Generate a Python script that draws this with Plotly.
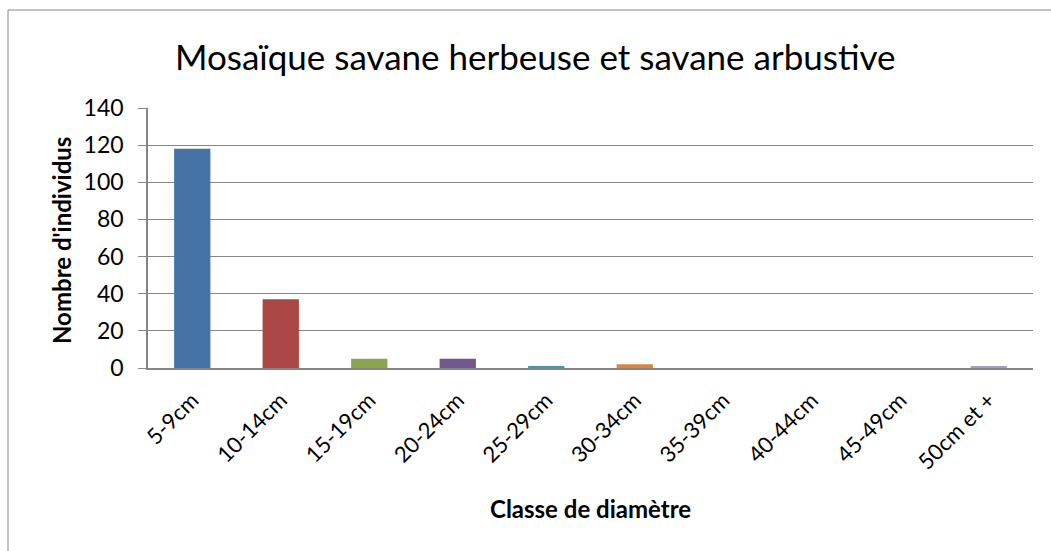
import plotly.graph_objects as go

# Diameter classes and number of individuals per class
classes = ["5-9cm", "10-14cm", "15-19cm", "20-24cm", "25-29cm",
           "30-34cm", "35-39cm", "40-44cm", "45-49cm", "50cm et +"]
individus = [118, 37, 5, 5, 1, 2, 0, 0, 0, 1]
colors = ["#4572A7", "#AA4643", "#89A54E", "#71588F", "#4198AF",
          "#DB843D", "#93A9CF", "#D19392", "#B9CD96", "#A99BBD"]
y_ticks = [0, 20, 40, 60, 80, 100, 120, 140]

W, H = 1051, 551
L, R, T, B = 148, 18, 108, 183
pw, ph = W - L - R, H - T - B

def px(x):
    return (x - L) / pw

def py(y):
    return (H - B - y) / ph

FONT = "Lato"
GRID = "#868686"

fig = go.Figure(go.Bar(
    x=classes, y=individus, marker=dict(color=colors, line=dict(width=0)),
    width=0.41, showlegend=False,
))

fig.update_layout(
    width=W, height=H,
    margin=dict(l=L, r=R, t=T, b=B, pad=0),
    paper_bgcolor="white", plot_bgcolor="white",
    font=dict(family=FONT, color="black", size=22),
    xaxis=dict(
        type="category", showgrid=False, showline=True, linecolor=GRID,
        linewidth=1.5, ticks="", tickangle=-45, tickfont=dict(size=22),
        ticklabelstandoff=9, zeroline=False,
    ),
    yaxis=dict(
        range=[0, 140], tickvals=y_ticks, showgrid=True, gridcolor=GRID,
        gridwidth=1.3, showline=True, linecolor=GRID, linewidth=1.5,
        ticks="outside", ticklen=8, tickcolor=GRID, tickfont=dict(size=23),
        ticklabelstandoff=10, zeroline=False,
    ),
    shapes=[dict(
        type="rect", xref="paper", yref="paper",
        x0=px(8), x1=px(W + 20), y0=py(H + 20), y1=py(10),
        line=dict(color=GRID, width=1), fillcolor="rgba(0,0,0,0)",
        layer="below",
    )],
    annotations=[
        dict(text="Mosaïque savane herbeuse et savane arbustive",
             xref="paper", yref="paper", x=px(535), y=py(56),
             showarrow=False, font=dict(size=35, family=FONT),
             xanchor="center", yanchor="middle"),
        dict(text="<b>Nombre d'individus</b>", xref="paper", yref="paper",
             x=px(61), y=py(241), textangle=-90, showarrow=False,
             font=dict(size=24, family=FONT),
             xanchor="center", yanchor="middle"),
        dict(text="<b>Classe de diamètre</b>", xref="paper", yref="paper",
             x=px(590), y=py(509), showarrow=False,
             font=dict(size=24, family=FONT),
             xanchor="center", yanchor="middle"),
    ],
)

fig.write_html("out.html")
